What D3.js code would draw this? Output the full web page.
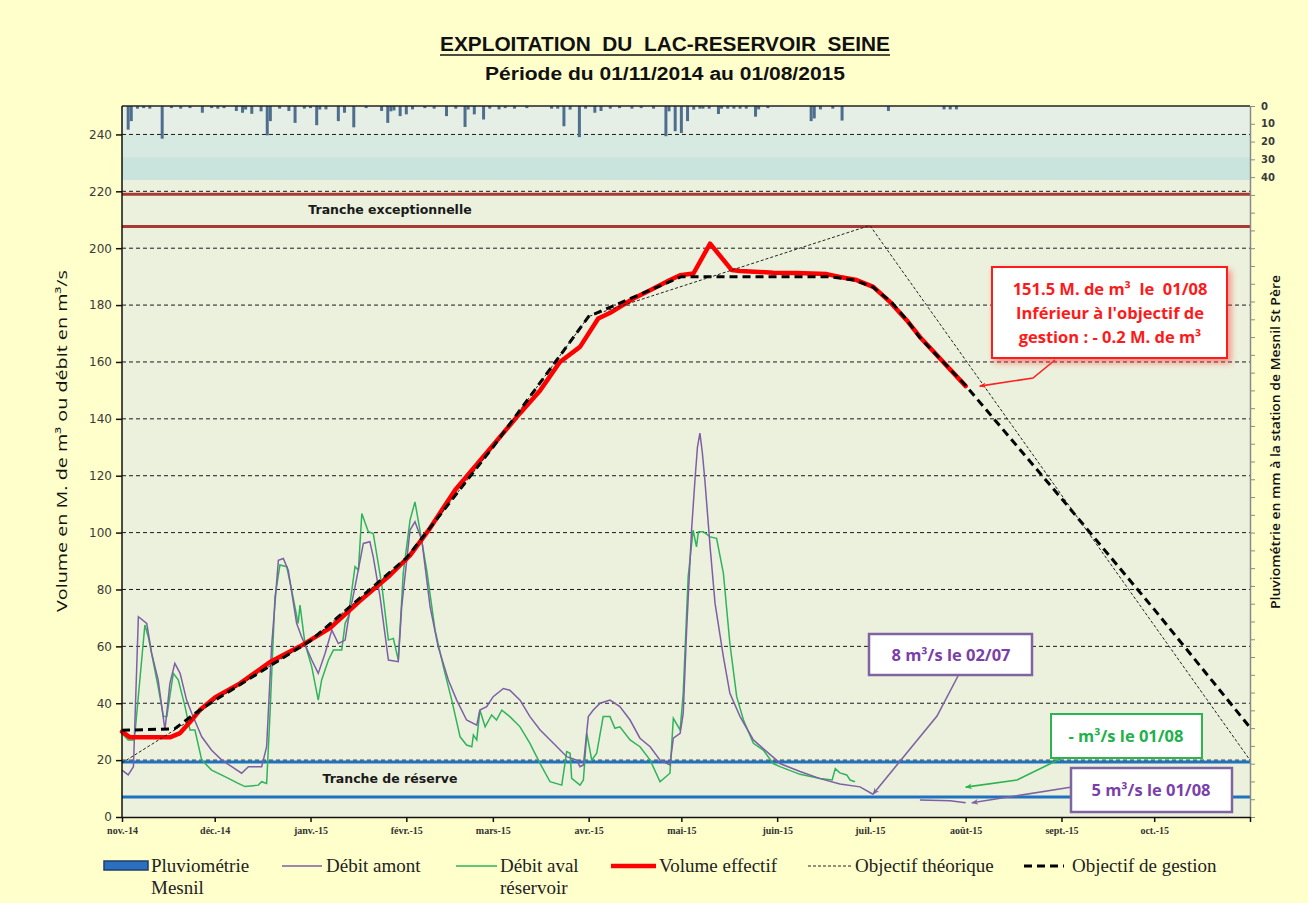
<!DOCTYPE html>
<html><head><meta charset="utf-8">
<script src="https://cdn.jsdelivr.net/npm/d3@7"></script>
<style>
html,body{margin:0;padding:0;background:#ffffcc;}
svg{display:block;}
</style></head>
<body>
<svg id="chart" width="1308" height="903"></svg>
<script>
// ---------------- DATA ----------------
// day = number of days since 01/11/2014
const monthLabels = ["nov.-14","déc.-14","janv.-15","févr.-15","mars-15","avr.-15","mai-15","juin-15","juil.-15","août-15","sept.-15","oct.-15"];
const leftTicks = [0,20,40,60,80,100,120,140,160,180,200,220,240];
const rainTickLabels = [0,10,20,30,40];

// Débit amont (m3/s)
const debitAmont = [[0,16.5],[2,14.8],[3.7,17.7],[5.3,70.4],[8,68.1],[9.6,57.5],[11.7,48.2],[13.9,30.6],[15.5,47],[17.1,54],[18.8,50.5],[20.9,41.1],[22.6,36.4],[25.8,28.2],[29,23.5],[32.3,20],[35.5,17.7],[38.7,15.4],[40.9,17.7],[45.2,17.7],[46.8,24.7],[48.4,59.9],[50.6,90.3],[52.2,90.9],[53.8,86.8],[56.5,68.1],[58.1,63.4],[61.4,55.2],[63.5,50.5],[65.7,57.5],[67.9,65.7],[70,61],[72.2,62.2],[73.2,69.2],[75.4,80.9],[78.1,96.2],[80.2,96.8],[81.3,91.5],[83.5,77.4],[86.2,55.2],[89.4,54.6],[90.5,73.9],[93.2,100.9],[94.8,103.8],[97,97.4],[99.7,73.9],[102.3,59.9],[105.6,48.2],[108.3,41.1],[111.5,34.1],[114.8,32.3],[115.8,37.6],[118,38.8],[120.1,42.3],[123.4,45.2],[125.5,44.6],[128.8,41.1],[132,35.3],[135.3,30.6],[139.6,25.9],[143.9,21.2],[147.1,20],[148.2,17.7],[149.3,18.3],[150.9,35.3],[152.5,37.6],[154.7,40],[157.9,41.1],[161.1,38.8],[164.4,34.1],[167.6,27.7],[170.9,24.7],[174.1,20],[177.3,18.3],[178.4,27.7],[180.6,29.4],[181.6,36.4],[182.7,65.7],[184.3,100.9],[185.4,118.5],[186.2,130],[187,135],[187.8,128],[188.6,118.5],[190.3,95],[191.9,75.1],[194.6,56.3],[196.7,43.5],[200,35.3],[204.3,27.1],[208.6,23],[211.8,20],[212.9,18.8],[219.4,16],[225.9,13.5],[232.3,11.6],[238.8,10.6],[243,8],[244,null],[258.2,6],[268,5.7],[273,5]];

// Débit aval réservoir (m3/s)
const debitAval = [[0,29.4],[2,27.1],[3.7,27.1],[4.2,29.5],[7.4,67.5],[8.5,63.4],[11.7,45.8],[13.4,35.3],[14.5,35.3],[16.6,50.5],[18.2,48.2],[20.4,38.8],[22,30.6],[23.6,30.6],[25.8,20],[29,16.5],[33.3,14.2],[37.6,11.8],[39.8,10.7],[44.1,11.2],[45.2,12.4],[46.8,11.8],[47.9,36.4],[49.5,77.4],[51.1,88.6],[53.3,88],[54.9,79.8],[57,68.1],[57.6,74.5],[59.2,61],[61.4,52.8],[63.5,41.1],[64.6,48.2],[66.8,55.2],[68.4,58.7],[71.1,58.7],[72.2,68.1],[73.2,70.4],[75.4,88],[76.5,86.8],[77.6,106.7],[79.7,100.3],[81.3,99.7],[84,82.1],[86.2,62.2],[87.8,62.8],[89.4,55.2],[91,85.7],[93.2,104.4],[94.8,110.8],[96.4,100.9],[98.6,86.8],[101.3,65.7],[104,52.8],[106.7,41.1],[109.4,28.2],[111.5,25.3],[113.2,24.7],[113.7,28.8],[114.8,27.1],[115.8,37.6],[117.5,31.7],[119.6,35.9],[121.2,34.1],[122.9,37.6],[125.5,35.3],[128.8,31.7],[132,25.9],[135.3,18.8],[138.5,12.4],[142.3,11.2],[143.9,23],[145,22.4],[145.5,13.6],[148.2,11.2],[149.3,13],[150.4,29.4],[152,20],[153.6,22.4],[155.7,35.3],[157.9,35.3],[159.5,31.2],[161.1,31.7],[164.4,27.1],[167.6,24.7],[170.9,20],[174.1,12.4],[177.3,15.4],[178.4,34.7],[180.6,30.6],[181.6,43.5],[183.2,84.5],[184.8,100.9],[185.9,95],[186.5,100.3],[188.1,100.3],[190.3,98.5],[192.4,98],[194.6,85.7],[196.7,61],[198.9,42.3],[201.1,34.1],[204.3,25.9],[207.5,23.5],[210.7,18.8],[212.9,17.7],[219.4,15],[225.9,13.5],[229.8,13],[230.8,17],[232.3,15.5],[234.5,14.8],[235.6,13],[237.2,12.4]];

// Volume effectif (M. m3)
const volumeEffectif = [[0,30],[2.6,28],[15.5,28],[18.8,29.5],[22,33.4],[25.2,37.6],[30.1,42],[38.2,47],[47.9,54.5],[57.6,60],[67.3,66.4],[77,76],[86.7,85],[93.2,92],[99.7,101.6],[107.8,115],[119.1,129.5],[128.8,142],[135.3,150],[141.7,160],[148.2,165.3],[154.1,175.3],[158.5,177.6],[165.5,182.3],[170.9,185.2],[177.3,188.8],[180.6,190.5],[184.9,191.1],[190.3,201.6],[197.3,192.3],[200,192],[210.7,191.4],[218.3,191.3],[228,190.9],[232.3,189.9],[237.7,188.8],[243.1,186.4],[248.5,181.1],[253.9,174.7],[258.2,168.8],[273,151.5]];

// Objectif théorique (M. m3)
const objectifTheorique = [[0,19],[22,34],[30,41],[61,62],[92,91],[120,130],[151,176],[242,208],[365,20]];

// Objectif de gestion (M. m3)
const objectifGestion = [[0,30.5],[17,31],[23.6,36.4],[30,41],[61,62],[92,91],[120,130],[151,176],[181,190],[229,190],[237,188.8],[243,186.3],[249,181],[254,174.7],[258,168.8],[273,151.7],[304,112],[334,73],[365,31.5]];

// Pluviométrie Mesnil (mm/jour)
const pluvio = [[2,13.3],[3,8.5],[5,1.5],[7,1.2],[9,1.5],[13,18.4],[16,1.2],[19,1.5],[22,1.2],[26,3.8],[29,1.2],[31,1.5],[33,1.2],[37,2.8],[39,3.8],[40,2],[42,4.4],[45,3],[47,16.5],[48,8.5],[51,1.5],[54,2.8],[56,9.5],[59,1.5],[61,1.2],[63,10.8],[64,2],[66,1.9],[70,8.5],[72,3.8],[75,12],[79,1.2],[84,2.8],[86,9.5],[87,3],[88,2.5],[90,5.7],[92,4.7],[94,1.9],[98,1.2],[101,1.5],[105,5.7],[108,1.5],[111,11.8],[112,2],[114,4.7],[117,7.6],[119,1.5],[122,1.9],[124,1.2],[127,1.5],[131,1.2],[139,1.5],[141,1.5],[143,11.4],[145,2],[148,17.5],[150,1.5],[153,3.8],[155,2.8],[158,1.5],[161,1.2],[165,1.5],[168,1.2],[172,1.5],[176,17],[177,3],[179,14.2],[181,15.2],[183,8.5],[185,2],[187,1.5],[188,1.5],[190,1.5],[193,4.5],[194,1.5],[196,1.5],[198,1.5],[200,1.5],[202,1.5],[205,6],[206,1.9],[209,1.2],[223,8.5],[224,7],[226,1.9],[230,1.5],[233,8.2],[248,2.8],[266,1.9],[268,1.9],[270,1.9]];

// ---------------- CHART ----------------
const svg = d3.select("#chart");
const L = 122, R = 1250, T = 106, B = 817;
const day0 = Date.UTC(2014,10,1);
const toDate = d => new Date(day0 + d*86400000);

const x = d3.scaleUtc().domain([new Date(day0), new Date(Date.UTC(2015,10,1))]).range([L,R]);
const y = d3.scaleLinear().domain([0,250]).range([B,T]);
const yRain = d3.scaleLinear().domain([0,400]).range([T,B]);

const defs = svg.append("defs");
const shadow = defs.append("filter").attr("id","redShadow").attr("x","-20%").attr("y","-20%").attr("width","150%").attr("height","160%");
shadow.append("feDropShadow").attr("dx",3).attr("dy",4).attr("stdDeviation",3).attr("flood-color","#ff3030").attr("flood-opacity",0.5);
function marker(id,color){
  defs.append("marker").attr("id",id).attr("viewBox","0 0 10 10").attr("refX",9).attr("refY",5)
    .attr("markerWidth",7).attr("markerHeight",7).attr("orient","auto-start-reverse").attr("markerUnits","userSpaceOnUse")
    .append("path").attr("d","M0,1 L10,5 L0,9 L3,5 Z").attr("fill",color);
}
marker("arrRed","#ff2020"); marker("arrPurple","#8064a2"); marker("arrGreen","#2db34f");

// plot background
svg.append("rect").attr("x",L).attr("y",T).attr("width",R-L).attr("height",B-T).attr("fill","#ecf1dd");
// precipitation panel bands
const bands = [[250,240,"#e6efe6"],[240,232,"#d7eae2"],[232,224,"#c9e4dd"]];
svg.selectAll("rect.band").data(bands).join("rect").attr("class","band")
  .attr("x",L).attr("width",R-L).attr("y",d=>y(d[0])).attr("height",d=>y(d[1])-y(d[0])).attr("fill",d=>d[2]);

// grid
svg.selectAll("line.grid").data(leftTicks.filter(v=>v>0)).join("line").attr("class","grid")
  .attr("x1",L).attr("x2",R).attr("y1",d=>y(d)).attr("y2",d=>y(d))
  .attr("stroke","#1a1a1a").attr("stroke-width",1).attr("stroke-dasharray","4,3");

// reference levels
const redLevels = [219.3, 208];
svg.selectAll("line.redlvl").data(redLevels).join("line").attr("class","redlvl")
  .attr("x1",L).attr("x2",R).attr("y1",d=>y(d)+1).attr("y2",d=>y(d)+1)
  .attr("stroke","#a83a36").attr("stroke-width",3);
const blueLevels = [19.3, 7];
svg.selectAll("line.bluelvl").data(blueLevels).join("line").attr("class","bluelvl")
  .attr("x1",L).attr("x2",R).attr("y1",d=>y(d)).attr("y2",d=>y(d))
  .attr("stroke","#1f72c0").attr("stroke-width",3);

svg.append("text").attr("x",390).attr("y",y(213.6)+4).attr("text-anchor","middle")
  .attr("font-family","DejaVu Sans").attr("font-weight","bold").attr("font-size",12.5).attr("fill","#1a1a1a")
  .text("Tranche exceptionnelle");
svg.append("text").attr("x",390).attr("y",y(13.2)+4).attr("text-anchor","middle")
  .attr("font-family","DejaVu Sans").attr("font-weight","bold").attr("font-size",12.5).attr("fill","#1a1a1a")
  .text("Tranche de réserve");

// rain bars
svg.selectAll("rect.rain").data(pluvio).join("rect").attr("class","rain")
  .attr("x",d=>x(toDate(d[0]))-1.5).attr("width",3)
  .attr("y",yRain(0)).attr("height",d=>yRain(d[1])-yRain(0))
  .attr("fill","#4f6e8e");

// lines
const line = d3.line().defined(d=>d[1]!=null).x(d=>x(toDate(d[0]))).y(d=>y(d[1]));
svg.append("path").datum(debitAval).attr("d",line).attr("fill","none").attr("stroke","#2fb35b").attr("stroke-width",1.5);
svg.append("path").datum(debitAmont).attr("d",line).attr("fill","none").attr("stroke","#7e5fa6").attr("stroke-width",1.5);
svg.append("path").datum(volumeEffectif).attr("d",line).attr("fill","none").attr("stroke","#ff0000").attr("stroke-width",4.5).attr("stroke-linejoin","round").attr("stroke-linecap","round");
svg.append("path").datum(objectifGestion).attr("d",line).attr("fill","none").attr("stroke","#000").attr("stroke-width",3).attr("stroke-dasharray","8,5");
svg.append("path").datum(objectifTheorique).attr("d",line).attr("fill","none").attr("stroke","#222").attr("stroke-width",1).attr("stroke-dasharray","3,2");

// plot frame top
svg.append("line").attr("x1",L).attr("x2",R).attr("y1",T).attr("y2",T).attr("stroke","#222").attr("stroke-width",1.5);

// axes
const gL = svg.append("g").attr("transform",`translate(${L},0)`)
  .call(d3.axisLeft(y).tickValues(leftTicks).tickSize(6).tickPadding(4).tickSizeOuter(0));
gL.select(".domain").attr("stroke","#111").attr("stroke-width",1.5).attr("d",`M0,${T}V${B}`);
gL.selectAll(".tick line").attr("stroke","#111").attr("stroke-width",1.5);
gL.selectAll("text").attr("font-family","DejaVu Sans").attr("font-size",12).attr("fill","#3a3a3a");

const gR = svg.append("g").attr("transform",`translate(${R},0)`)
  .call(d3.axisRight(yRain).tickValues(d3.range(0,401,10)).tickSize(5).tickPadding(6)
    .tickFormat(d=>rainTickLabels.includes(d)?d:"").tickSizeOuter(0));
gR.select(".domain").attr("stroke","#8a8a8a").attr("stroke-width",1.5);
gR.selectAll(".tick line").attr("stroke","#8a8a8a");
gR.selectAll("text").attr("font-family","DejaVu Sans").attr("font-weight","bold").attr("font-size",10).attr("fill","#3a3a3a");

const monthTicks = d3.utcMonth.range(new Date(day0), new Date(Date.UTC(2015,10,2)));
const gB = svg.append("g").attr("transform",`translate(0,${B})`)
  .call(d3.axisBottom(x).tickValues(monthTicks).tickSize(5).tickPadding(5)
    .tickFormat((d,i)=>monthLabels[i]||"").tickSizeOuter(0));
gB.select(".domain").attr("stroke","#111").attr("stroke-width",1.5);
gB.selectAll(".tick line").attr("stroke","#111").attr("stroke-width",1.5);
gB.selectAll("text").attr("font-family","Liberation Serif").attr("font-weight","bold").attr("font-size",10).attr("fill","#333");

// axis titles
svg.append("text").attr("transform","translate(67,441) rotate(-90)").attr("text-anchor","middle")
  .attr("font-family","Open Sans").attr("font-size",14).attr("fill","#111")
  .attr("textLength",342).attr("lengthAdjust","spacingAndGlyphs")
  .text("Volume en M. de m³ ou débit en m³/s");
svg.append("text").attr("transform","translate(1280,442) rotate(-90)").attr("text-anchor","middle")
  .attr("font-family","Open Sans").attr("font-weight",600).attr("font-size",12).attr("fill","#111")
  .attr("textLength",334).attr("lengthAdjust","spacingAndGlyphs")
  .text("Pluviométrie en mm à la station de Mesnil St Père");

// titles
const title = svg.append("text").attr("x",665).attr("y",51).attr("text-anchor","middle")
  .attr("font-family","Liberation Sans").attr("font-weight","bold").attr("font-size",20).attr("fill","#111")
  .style("white-space","pre")
  .attr("textLength",450).attr("lengthAdjust","spacingAndGlyphs")
  .text("EXPLOITATION  DU  LAC-RESERVOIR  SEINE");
const tb = title.node().getBBox();
svg.append("line").attr("x1",tb.x).attr("x2",tb.x+tb.width).attr("y1",55).attr("y2",55).attr("stroke","#111").attr("stroke-width",1.6);
svg.append("text").attr("x",665).attr("y",80).attr("text-anchor","middle")
  .attr("font-family","Liberation Sans").attr("font-weight","bold").attr("font-size",18).attr("fill","#111")
  .attr("textLength",360).attr("lengthAdjust","spacingAndGlyphs")
  .text("Période du 01/11/2014 au 01/08/2015");

// annotations
function box(x0,y0,w,h,stroke,sw,filter){
  const r = svg.append("rect").attr("x",x0).attr("y",y0).attr("width",w).attr("height",h)
    .attr("fill","#fff").attr("stroke",stroke).attr("stroke-width",sw);
  if(filter) r.attr("filter",filter);
}
function label(cx,cy,lines,color,size){
  lines.forEach((t,i)=>svg.append("text").attr("x",cx).attr("y",cy+i*24).attr("text-anchor","middle")
    .attr("font-family","Open Sans").attr("font-weight","bold").attr("font-size",size).attr("fill",color)
    .style("white-space","pre").text(t));
}
function leader(pts,color,m){
  svg.append("path").attr("d",d3.line()(pts)).attr("fill","none").attr("stroke",color).attr("stroke-width",1.6)
    .attr("marker-end",`url(#${m})`);
}
// red
leader([[1055,360],[1033,378],[x(toDate(273))+14,y(151.5)]],"#ff2020","arrRed");
box(992,267,235,91,"#ff1a1a",2,"url(#redShadow)");
label(1110,295,["151.5 M. de m³  le  01/08","Inférieur à l'objectif de","gestion : - 0.2 M. de m³"],"#ff1a1a",16.5);
// purple 02/07
leader([[958,676],[937,716],[x(toDate(243)),y(8)]],"#8064a2","arrPurple");
box(869,634,163,41,"#8064a2",2.5);
label(951,661,["8 m³/s le 02/07"],"#7a3fa8",16.5);
// green
leader([[1062,758],[1017,780],[x(toDate(273)),y(10.5)]],"#2db34f","arrGreen");
box(1051,714,151,44,"#2db34f",2);
label(1126,742,["- m³/s le 01/08"],"#22b04a",16.5);
// purple 5
leader([[1072,787],[x(toDate(275)),y(5)]],"#8064a2","arrPurple");
box(1071,768,161,44,"#8064a2",2.5);
label(1151,796,["5 m³/s le 01/08"],"#7a3fa8",16.5);

// legend
const lg = svg.append("g").attr("font-family","Liberation Serif").attr("font-size",19).attr("fill","#222");
lg.append("rect").attr("x",104).attr("y",861).attr("width",44).attr("height",9).attr("fill","#2a6fc0").attr("stroke","#1d3f66").attr("stroke-width",1.5);
lg.append("text").attr("x",151).attr("y",872).text("Pluviométrie");
lg.append("text").attr("x",151).attr("y",894).text("Mesnil");
lg.append("line").attr("x1",282).attr("x2",322).attr("y1",866).attr("y2",866).attr("stroke","#7e5fa6").attr("stroke-width",1.5);
lg.append("text").attr("x",326).attr("y",872).text("Débit amont");
lg.append("line").attr("x1",456).attr("x2",497).attr("y1",866).attr("y2",866).attr("stroke","#2fb35b").attr("stroke-width",1.5);
lg.append("text").attr("x",500).attr("y",872).text("Débit aval");
lg.append("text").attr("x",500).attr("y",894).text("réservoir");
lg.append("line").attr("x1",611).attr("x2",656).attr("y1",866).attr("y2",866).attr("stroke","#ff0000").attr("stroke-width",4.5);
lg.append("text").attr("x",659).attr("y",872).text("Volume effectif");
lg.append("line").attr("x1",808).attr("x2",852).attr("y1",866).attr("y2",866).attr("stroke","#222").attr("stroke-width",1).attr("stroke-dasharray","3,2");
lg.append("text").attr("x",855).attr("y",872).text("Objectif théorique");
lg.append("line").attr("x1",1024).attr("x2",1064).attr("y1",866).attr("y2",866).attr("stroke","#000").attr("stroke-width",3).attr("stroke-dasharray","8,5");
lg.append("text").attr("x",1072).attr("y",872).text("Objectif de gestion");
</script>
</body></html>
